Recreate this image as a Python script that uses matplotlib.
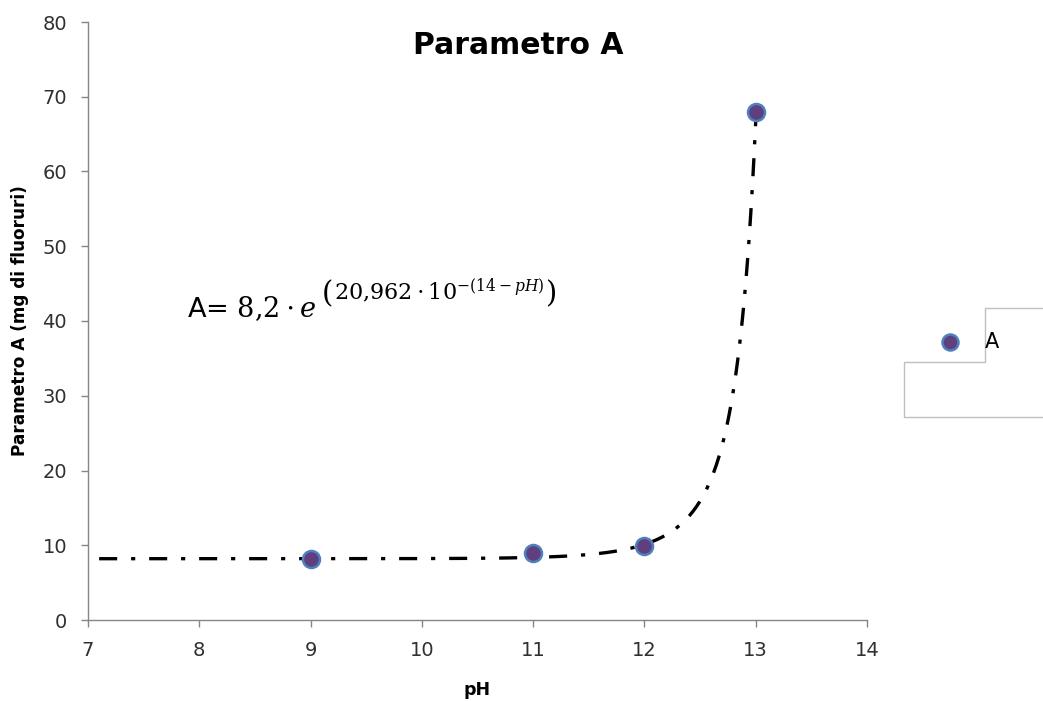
import numpy as np
import matplotlib
matplotlib.use("Agg")
import matplotlib.pyplot as plt
from matplotlib.lines import Line2D

# Data
ph = [9, 11, 12, 13]
param_a = [8.1, 8.9, 9.9, 68.0]
# Trendline parameters as printed on the chart: A = 8,2 * e^(20,962 * 10^-(14-pH))
coef_a = 8.2
coef_b = 20.962
trend_start, trend_end = 7.1, 13.0
x_ticks = [7, 8, 9, 10, 11, 12, 13, 14]
y_ticks = [0, 10, 20, 30, 40, 50, 60, 70, 80]

plt.rcParams['font.family'] = ['DejaVu Sans']
plt.rcParams['lines.scale_dashes'] = False

W, H = 1043, 701
fig = plt.figure(figsize=(W / 100, H / 100), dpi=100)
ax = fig.add_axes([88 / W, (H - 620) / H, (867 - 88) / W, (620 - 22) / H])

xt = np.linspace(trend_start, trend_end, 400)
yt = coef_a * np.exp(coef_b * 10.0 ** (-(14 - xt)))
ax.plot(xt, yt, color='black', lw=2.4, dashes=(13, 10, 3, 10), solid_capstyle='butt',
        dash_capstyle='butt', zorder=2)

ax.scatter(ph, param_a, s=150, facecolor='#5F3F7F', edgecolor='#4F81BD', linewidth=1.8, zorder=3)

ax.set_xlim(7, 14)
ax.set_ylim(0, 80)
ax.set_xticks(x_ticks)
ax.set_yticks(y_ticks)
for s in ['top', 'right']:
    ax.spines[s].set_visible(False)
for s in ['left', 'bottom']:
    ax.spines[s].set_color('#868686')
    ax.spines[s].set_linewidth(1.0)
ax.tick_params(axis='both', colors='#868686', length=5, width=1, labelcolor='#303030', labelsize=14)
ax.tick_params(axis='x', pad=10)
ax.tick_params(axis='y', pad=10)

ax.set_xlabel('pH', fontsize=12.5, fontweight='bold', labelpad=15)
ax.set_ylabel('Parametro A (mg di fluoruri)', fontsize=12.2, fontweight='bold', labelpad=10)

fig.text(518 / W, 1 - 45 / H, 'Parametro A', ha='center', va='center', fontsize=21.5, fontweight='bold')

# Trendline equation: main part, large parentheses and exponent
renderer = fig.canvas.get_renderer()


def put(x_px, baseline_px, s, size):
    t = fig.text(x_px / W, 1 - baseline_px / H, s, ha='left', va='baseline',
                 fontsize=size, math_fontfamily='dejavuserif')
    return t.get_window_extent(renderer=renderer).x1


x_end = put(187, 317, r'A= $8{,}2\cdot e$', 19.5)
x_end = put(x_end + 5, 302, r'$($', 21)
x_end = put(x_end + 1, 299, r'$20{,}962\cdot 10^{-(14-pH)}$', 16)
put(x_end + 1, 302, r'$)$', 21)

# Legend (drawn as in the reference: marker, label and stepped frame)
fig.add_artist(Line2D([950 / W], [1 - 342 / H], marker='o', markersize=11.5,
                      markerfacecolor='#5F3F7F', markeredgecolor='#4F81BD', markeredgewidth=1.8,
                      transform=fig.transFigure))
fig.text(985 / W, 1 - 342 / H, 'A', ha='left', va='center', fontsize=15)
fx = [1043, 985, 985, 904, 904, 1043]
fy = [308, 308, 362, 362, 417, 417]
fig.add_artist(Line2D([v / W for v in fx], [1 - v / H for v in fy], color='#BFBFBF', lw=1,
                      transform=fig.transFigure))

fig.savefig('out.png', dpi=100)
